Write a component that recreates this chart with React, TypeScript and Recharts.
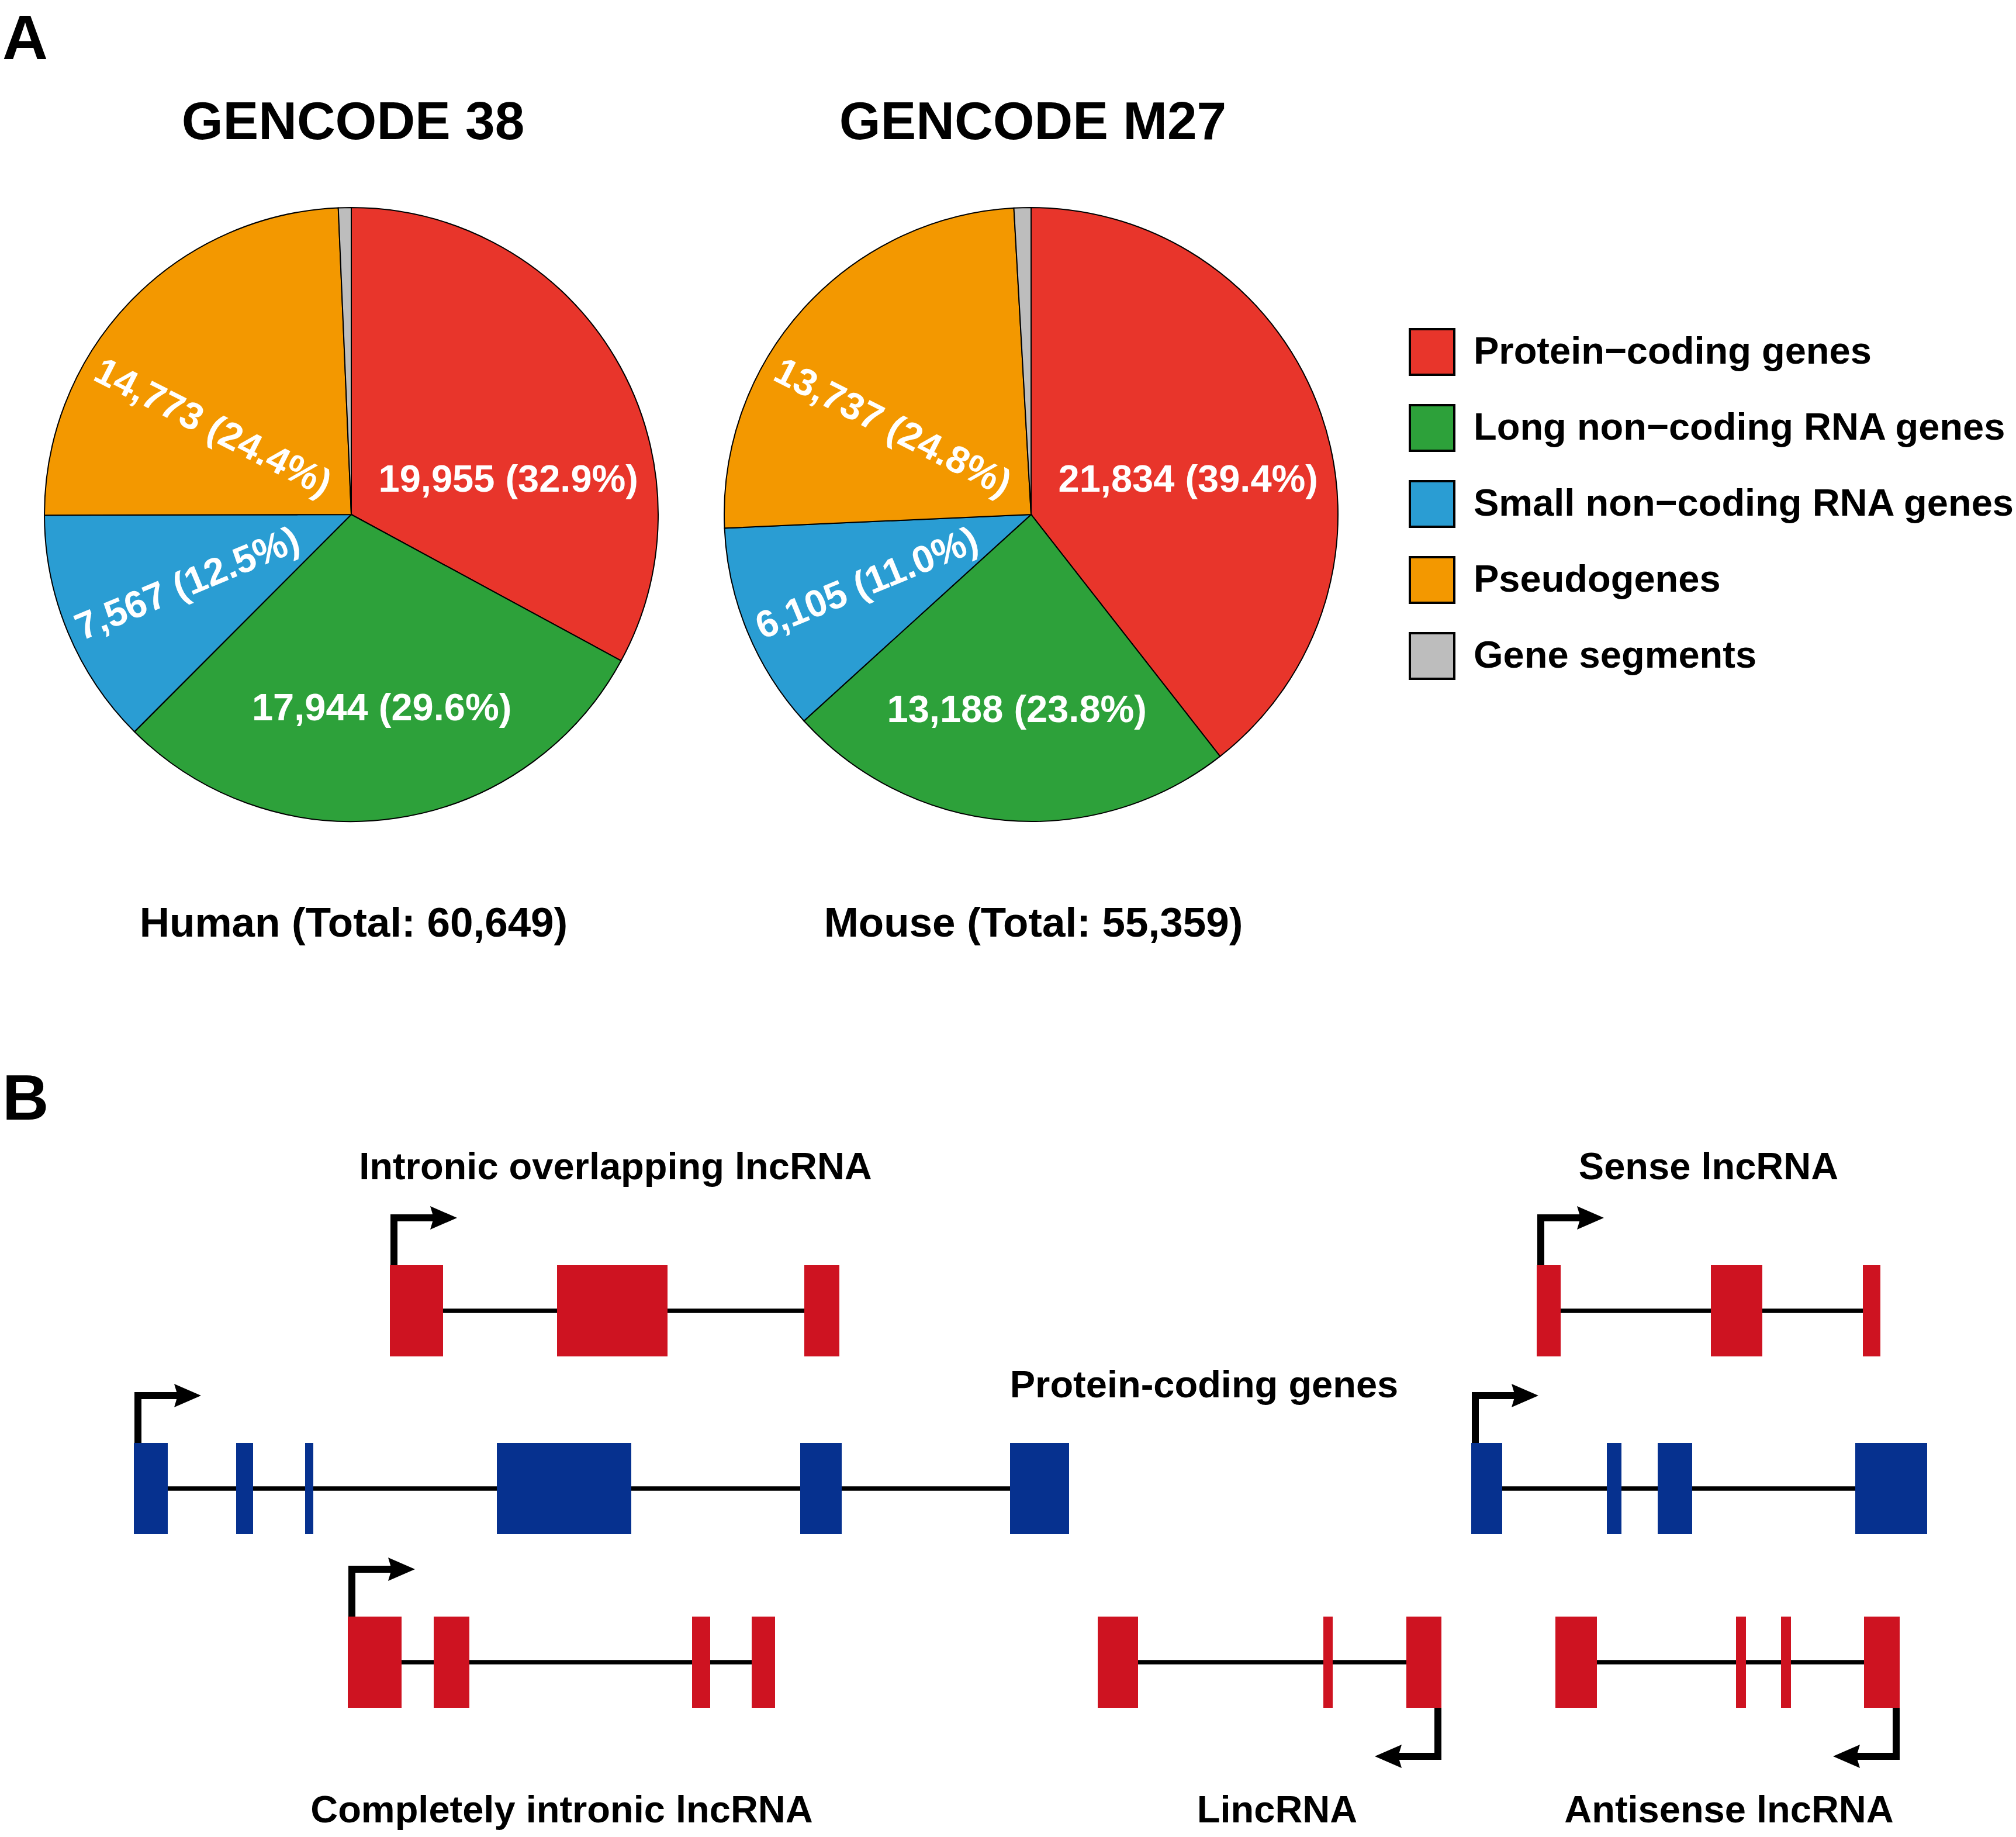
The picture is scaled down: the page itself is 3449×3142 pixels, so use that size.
import React from 'react';
import {
  PieChart,
  Pie,
  Cell,
  Legend,
  ComposedChart,
  XAxis,
  YAxis,
  ReferenceArea,
  ReferenceLine,
  Scatter,
} from 'recharts';

// ---------------- Panel A data ----------------
const categories = [
  'Protein−coding genes',
  'Long non−coding RNA genes',
  'Small non−coding RNA genes',
  'Pseudogenes',
  'Gene segments',
];
const humanCounts = [19955, 17944, 7567, 14773, 410];
const mouseCounts = [21834, 13188, 6105, 13737, 495];
const pieTitles = ['GENCODE 38', 'GENCODE M27'];
const speciesNames = ['Human', 'Mouse'];

// ---------------- Panel B data (figure coordinate units) ----------------
const intronicOverlapExons = [[667, 758], [953, 1142], [1376, 1436]];
const senseExons = [[2629, 2670], [2927, 3015], [3187, 3217]];
const proteinGene1Exons = [[229, 287], [404, 433], [522, 536], [850, 1080], [1369, 1440], [1728, 1829]];
const proteinGene2Exons = [[2517, 2570], [2749, 2774], [2836, 2895], [3174, 3297]];
const completelyIntronicExons = [[595, 687], [742, 803], [1184, 1215], [1286, 1326]];
const lincExons = [[1878, 1947], [2264, 2280], [2406, 2466]];
const antisenseExons = [[2661, 2732], [2970, 2987], [3047, 3064], [3189, 3250]];
const geneStrands = [1, 1, 1, 1, 1, -1, -1];
const geneTracks = [0, 0, 1, 1, 2, 2, 2];
const geneKinds = ['lnc', 'lnc', 'pc', 'pc', 'lnc', 'lnc', 'lnc'];
const geneLabelTexts = [
  'Intronic overlapping lncRNA',
  'Sense lncRNA',
  'Protein-coding genes',
  'Completely intronic lncRNA',
  'LincRNA',
  'Antisense lncRNA',
];

// ---------------- Styles / layout ----------------
const FONT = '"Liberation Sans", Arial, Helvetica, sans-serif';
const sliceColors = ['#E8352B', '#2DA13A', '#2A9DD3', '#F39800', '#BDBDBD'];
const EXON_RED = '#CE1321';
const EXON_BLUE = '#06318F';
const PIE_R = 525;
const PIE_CENTERS = [
  { x: 601, y: 880 },
  { x: 1764, y: 880 },
];
const RAD = Math.PI / 180;

const labelLayout: any[] = [
  { angle: 12.8, rf: 0.525, rot: 0, da: 0 },
  { angle: null, rf: 0.635, rot: 0, da: 0.7 },
  { angle: null, rf: 0.58, rot: 'radial', da: 0 },
  { angle: 147.5, rf: 0.533, rot: 27, da: 0 },
  null,
];

const B_TOP = 1800;
const B_H = 3142 - B_TOP;
const trackY = [2242, 2546, 2843];
const EXON_HALF = 78;
const INTRON_W = 7.5;
const ARROW_W = 12;
const ARROW_RISE = 159;
const ARROW_LEN = 108;
const HEAD_LEN = 46;
const HEAD_HALF = 20;

const geneLabelPos = [
  { x: 1053, y: 2017 },
  { x: 2923, y: 2017 },
  { x: 2060, y: 2390 },
  { x: 961, y: 3117 },
  { x: 2185, y: 3117 },
  { x: 2958, y: 3117 },
];

const sum = (a: number[]) => a.reduce((s, v) => s + v, 0);

function makeLabel(counts: number[]) {
  const total = sum(counts);
  return (props: any) => {
    const { cx, cy, midAngle, outerRadius, index } = props;
    const lay = labelLayout[index];
    if (!lay) return null;
    const a = lay.angle == null ? midAngle + lay.da : lay.angle;
    const r = outerRadius * lay.rf;
    const x = cx + r * Math.cos(a * RAD);
    const y = cy - r * Math.sin(a * RAD);
    const rot = lay.rot === 'radial' ? -(midAngle + 180) : lay.rot;
    const v = counts[index];
    const txt = `${v.toLocaleString('en-US')} (${((v / total) * 100).toFixed(1)}%)`;
    return (
      <text
        key={`lbl-${index}`}
        x={x}
        y={y}
        fill="#fff"
        fontSize={65}
        fontWeight="bold"
        fontFamily={FONT}
        textAnchor="middle"
        dominantBaseline="central"
        transform={`rotate(${rot} ${x} ${y})`}
      >
        {txt}
      </text>
    );
  };
}

const renderLegend = () => (
  <svg width={1040} height={660} style={{ display: 'block' }}>
    {categories.map((c, i) => (
      <g key={c}>
        <rect x={2} y={2 + i * 130} width={76} height={78} fill={sliceColors[i]} stroke="#000" strokeWidth={4} />
        <text x={111} y={61 + i * 130} fontSize={65} fontWeight="bold" fontFamily={FONT} fill="#000">
          {c}
        </text>
      </g>
    ))}
  </svg>
);

const renderHead = (props: any) => {
  const { cx, cy, payload } = props;
  if (cx == null || cy == null) return <g />;
  const d = payload.dir;
  const pts = [
    `${cx},${cy}`,
    `${cx - d * HEAD_LEN},${cy - HEAD_HALF}`,
    `${cx - d * (HEAD_LEN - 6)},${cy}`,
    `${cx - d * HEAD_LEN},${cy + HEAD_HALF}`,
  ].join(' ');
  return <polygon points={pts} fill="#000" />;
};

function buildGeneMarks() {
  const geneExons = [
    intronicOverlapExons,
    senseExons,
    proteinGene1Exons,
    proteinGene2Exons,
    completelyIntronicExons,
    lincExons,
    antisenseExons,
  ];
  const areas: any[] = [];
  const lines: any[] = [];
  const heads: any[] = [];
  geneExons.forEach((exons, gi) => {
    const yc = trackY[geneTracks[gi]];
    const color = geneKinds[gi] === 'pc' ? EXON_BLUE : EXON_RED;
    for (let i = 0; i < exons.length - 1; i++) {
      lines.push(
        <ReferenceLine
          key={`in-${gi}-${i}`}
          segment={[
            { x: exons[i][1], y: yc },
            { x: exons[i + 1][0], y: yc },
          ]}
          stroke="#000"
          strokeWidth={INTRON_W}
        />
      );
    }
    exons.forEach(([a, b], ei) => {
      areas.push(
        <ReferenceArea
          key={`ex-${gi}-${ei}`}
          x1={a}
          x2={b}
          y1={yc - EXON_HALF}
          y2={yc + EXON_HALF}
          fill={color}
          fillOpacity={1}
          stroke="none"
        />
      );
    });
    const dir = geneStrands[gi];
    if (dir === 1) {
      const vx = exons[0][0] + 7;
      const y0 = yc - EXON_HALF;
      const yb = yc - ARROW_RISE;
      const tip = vx + ARROW_LEN;
      lines.push(
        <ReferenceLine key={`av-${gi}`} segment={[{ x: vx, y: y0 }, { x: vx, y: yb - ARROW_W / 2 }]} stroke="#000" strokeWidth={ARROW_W} />
      );
      lines.push(
        <ReferenceLine key={`ah-${gi}`} segment={[{ x: vx - ARROW_W / 2, y: yb }, { x: tip - HEAD_LEN + 8, y: yb }]} stroke="#000" strokeWidth={ARROW_W} />
      );
      heads.push({ x: tip, y: yb, dir: 1 });
    } else {
      const vx = exons[exons.length - 1][1] - 6;
      const y0 = yc + EXON_HALF;
      const yb = yc + ARROW_RISE + 2;
      const tip = vx - ARROW_LEN;
      lines.push(
        <ReferenceLine key={`av-${gi}`} segment={[{ x: vx, y: y0 }, { x: vx, y: yb + ARROW_W / 2 }]} stroke="#000" strokeWidth={ARROW_W} />
      );
      lines.push(
        <ReferenceLine key={`ah-${gi}`} segment={[{ x: vx + ARROW_W / 2, y: yb }, { x: tip + HEAD_LEN - 8, y: yb }]} stroke="#000" strokeWidth={ARROW_W} />
      );
      heads.push({ x: tip, y: yb, dir: -1 });
    }
  });
  return { areas, lines, heads };
}

export default function App() {
  const humanData = categories.map((name, i) => ({ name, value: humanCounts[i] }));
  const mouseData = categories.map((name, i) => ({ name, value: mouseCounts[i] }));
  const totals = [sum(humanCounts), sum(mouseCounts)];
  const { areas, lines, heads } = buildGeneMarks();

  return (
    <div style={{ position: 'absolute', left: 0, top: 0, width: 3449, height: 3142, background: '#fff', fontFamily: FONT }}>
      {/* Panel A: pies */}
      <div style={{ position: 'absolute', left: 0, top: 0 }}>
        <PieChart width={3449} height={1700} margin={{ top: 0, right: 0, bottom: 0, left: 0 }}>
          <Pie
            data={humanData}
            dataKey="value"
            nameKey="name"
            cx={PIE_CENTERS[0].x}
            cy={PIE_CENTERS[0].y}
            outerRadius={PIE_R}
            startAngle={90}
            endAngle={-270}
            stroke="#000"
            strokeWidth={2}
            label={makeLabel(humanCounts)}
            labelLine={false}
            isAnimationActive={false}
          >
            {humanData.map((d, i) => (
              <Cell key={d.name} fill={sliceColors[i]} />
            ))}
          </Pie>
          <Pie
            data={mouseData}
            dataKey="value"
            nameKey="name"
            cx={PIE_CENTERS[1].x}
            cy={PIE_CENTERS[1].y}
            outerRadius={PIE_R}
            startAngle={90}
            endAngle={-270}
            stroke="#000"
            strokeWidth={2}
            label={makeLabel(mouseCounts)}
            labelLine={false}
            isAnimationActive={false}
          >
            {mouseData.map((d, i) => (
              <Cell key={d.name} fill={sliceColors[i]} />
            ))}
          </Pie>
          <Legend
            layout="vertical"
            align="right"
            verticalAlign="top"
            content={renderLegend}
            wrapperStyle={{ left: 2410, top: 561, width: 1039, height: 660, right: 'auto', bottom: 'auto' }}
          />
        </PieChart>
      </div>

      {/* Panel B: gene models */}
      <div style={{ position: 'absolute', left: 0, top: B_TOP }}>
        <ComposedChart width={3449} height={B_H} margin={{ top: 0, right: 0, bottom: 0, left: 0 }} data={heads}>
          <XAxis type="number" dataKey="x" domain={[0, 3449]} hide allowDataOverflow />
          <YAxis type="number" dataKey="y" domain={[B_TOP, 3142]} reversed hide allowDataOverflow />
          {lines}
          {areas}
          <Scatter data={heads} dataKey="y" shape={renderHead} isAnimationActive={false} />
        </ComposedChart>
      </div>

      {/* Text overlay */}
      <svg
        width={3449}
        height={3142}
        style={{ position: 'absolute', left: 0, top: 0, pointerEvents: 'none' }}
        fontFamily={FONT}
        fontWeight="bold"
      >
        <text x={4} y={101} fontSize={108}>A</text>
        <text x={4} y={1915} fontSize={110}>B</text>
        {pieTitles.map((t, i) => (
          <text key={t} x={PIE_CENTERS[i].x + 3} y={238} fontSize={91} textAnchor="middle">
            {t}
          </text>
        ))}
        {speciesNames.map((s, i) => (
          <text key={s} x={PIE_CENTERS[i].x + 4} y={1602} fontSize={71} textAnchor="middle">
            {`${s} (Total: ${totals[i].toLocaleString('en-US')})`}
          </text>
        ))}
        {geneLabelTexts.map((t, i) => (
          <text key={t} x={geneLabelPos[i].x} y={geneLabelPos[i].y} fontSize={65} textAnchor="middle">
            {t}
          </text>
        ))}
      </svg>
    </div>
  );
}
